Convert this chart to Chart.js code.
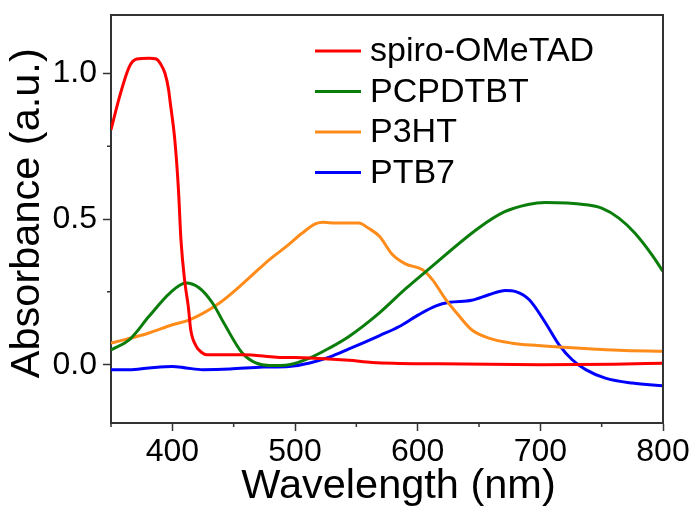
<!DOCTYPE html>
<html>
<head>
<meta charset="utf-8">
<script src="https://cdn.jsdelivr.net/npm/chart.js@4.4.1/dist/chart.umd.min.js"></script>
<style>
  html, body { margin: 0; padding: 0; background: #fff; }
  #abs-chart { display: block; }
</style>
</head>
<body>
<canvas id="abs-chart" width="693" height="509"></canvas>
<script>
// UV-vis absorbance of the hole-transport materials
const spiroNm  = [350, 357, 365, 371, 381, 387, 390, 394, 397, 398, 402, 405, 407, 410, 413, 415, 419.5, 424, 428, 447, 458, 485, 512, 544, 563, 617, 700, 760, 800];
const spiroAbs = [0.806, 0.92, 1.023, 1.049, 1.052, 1.049, 1.035, 1.0, 0.943, 0.909, 0.772, 0.60, 0.43, 0.29, 0.20, 0.12, 0.063, 0.042, 0.034, 0.034, 0.034, 0.026, 0.023, 0.015, 0.008, 0.003, 0.0, 0.002, 0.005];

const pcpdtbtNm  = [350, 365, 381, 398, 411, 422, 433, 442, 457, 468, 479, 495, 512, 528, 544, 568.6, 590, 609, 650, 671, 690, 704, 737, 750, 764, 777, 791, 800];
const pcpdtbtAbs = [0.051, 0.086, 0.166, 0.246, 0.28, 0.263, 0.21, 0.143, 0.04, 0.006, -0.003, 0.0, 0.023, 0.057, 0.097, 0.177, 0.26, 0.328, 0.47, 0.525, 0.55, 0.557, 0.549, 0.537, 0.503, 0.452, 0.377, 0.32];

const p3htNm  = [350, 381, 400, 414, 438.5, 455, 465.5, 479, 493, 506, 517, 523, 533, 552, 560, 569, 579, 590, 604, 612, 623, 634, 644, 658, 677, 698, 715, 764, 800];
const p3htAbs = [0.074, 0.109, 0.137, 0.154, 0.212, 0.269, 0.309, 0.36, 0.406, 0.452, 0.484, 0.489, 0.486, 0.486, 0.468, 0.44, 0.38, 0.346, 0.326, 0.292, 0.223, 0.166, 0.12, 0.091, 0.074, 0.066, 0.061, 0.05, 0.046];

const ptb7Nm  = [350, 365, 381, 400, 411, 425, 447, 474, 495, 512, 528, 544, 569, 585, 601, 615, 626, 644, 658, 671.5, 680, 691, 704, 715, 726, 737, 753, 775, 800];
const ptb7Abs = [-0.017, -0.017, -0.011, -0.006, -0.011, -0.017, -0.015, -0.008, -0.006, 0.006, 0.026, 0.054, 0.1, 0.131, 0.172, 0.202, 0.214, 0.221, 0.24, 0.255, 0.251, 0.223, 0.145, 0.07, 0.017, -0.017, -0.046, -0.063, -0.072];

const xTicks = [400, 500, 600, 700, 800];
const xMinorTicks = [350, 450, 550, 650, 750];
const yTicks = [0, 0.5, 1.0];
const yMinorTicks = [0.25, 0.75];

const fontFamily = '"Liberation Sans", Arial, Helvetica, sans-serif';
const axisColor = '#333';

const seriesColors = {
  spiro: '#ff0000',
  pcpdtbt: '#0b7d0b',
  p3ht: '#ff8c1a',
  ptb7: '#0000ff',
};

function toPoints(xs, ys) {
  return xs.map((x, i) => ({ x, y: ys[i] }));
}

function lineSet(label, xs, ys, color) {
  return {
    label,
    data: toPoints(xs, ys),
    borderColor: color,
    backgroundColor: color,
    borderWidth: 3,
    pointRadius: 0,
    cubicInterpolationMode: 'monotone',
    fill: false,
  };
}

// box around the plot plus the short minor ticks
const framePlugin = {
  id: 'frame',
  afterDraw(chart) {
    const { ctx, chartArea: a, scales } = chart;
    ctx.save();
    ctx.strokeStyle = axisColor;
    ctx.lineWidth = 2;
    ctx.beginPath();
    ctx.moveTo(a.left, a.top);
    ctx.lineTo(a.right, a.top);
    ctx.lineTo(a.right, a.bottom);
    ctx.stroke();

    ctx.lineWidth = 1.5;
    ctx.beginPath();
    xMinorTicks.forEach((v) => {
      const px = scales.x.getPixelForValue(v);
      ctx.moveTo(px, a.bottom);
      ctx.lineTo(px, a.bottom + 4);
    });
    yMinorTicks.forEach((v) => {
      const py = scales.y.getPixelForValue(v);
      ctx.moveTo(a.left, py);
      ctx.lineTo(a.left - 4, py);
    });
    ctx.stroke();
    ctx.restore();
  },
};

// stacked legend in the upper right of the plot
const legendPlugin = {
  id: 'stackLegend',
  afterDraw(chart) {
    const { ctx, chartArea: a } = chart;
    ctx.save();
    ctx.font = `34px ${fontFamily}`;
    ctx.textBaseline = 'middle';
    ctx.fillStyle = '#000';
    chart.data.datasets.forEach((ds, i) => {
      const y = a.top + 36 + i * 40.5;
      ctx.strokeStyle = ds.borderColor;
      ctx.lineWidth = 3;
      ctx.beginPath();
      ctx.moveTo(a.left + 204, y);
      ctx.lineTo(a.left + 250, y);
      ctx.stroke();
      ctx.fillText(ds.label, a.left + 259, y + 1);
    });
    ctx.restore();
  },
};

const ctx = document.getElementById('abs-chart');

new Chart(ctx, {
  type: 'line',
  data: {
    datasets: [
      lineSet('spiro-OMeTAD', spiroNm, spiroAbs, seriesColors.spiro),
      lineSet('PCPDTBT', pcpdtbtNm, pcpdtbtAbs, seriesColors.pcpdtbt),
      lineSet('P3HT', p3htNm, p3htAbs, seriesColors.p3ht),
      lineSet('PTB7', ptb7Nm, ptb7Abs, seriesColors.ptb7),
    ],
  },
  options: {
    responsive: false,
    animation: false,
    devicePixelRatio: 1,
    layout: { padding: { top: 15, right: 30, bottom: 0, left: 0 } },
    plugins: {
      legend: { display: false },
      tooltip: { enabled: false },
    },
    scales: {
      x: {
        type: 'linear',
        position: 'bottom',
        min: 350,
        max: 800,
        afterBuildTicks: (scale) => { scale.ticks = xTicks.map((v) => ({ value: v })); },
        afterFit: (scale) => {
          scale.height = 86;
          scale.paddingLeft = 0;
          scale.paddingRight = 0;
        },
        grid: { drawOnChartArea: false, drawTicks: true, tickLength: 8, tickColor: axisColor, tickWidth: 1.5 },
        border: { display: true, color: axisColor, width: 2 },
        ticks: {
          autoSkip: false,
          maxRotation: 0,
          padding: 2,
          color: '#000',
          font: { family: fontFamily, size: 32 },
          callback: (v) => String(v),
        },
        title: {
          display: true,
          text: '  Wavelength (nm)',
          color: '#000',
          font: { family: fontFamily, size: 41.5, lineHeight: 1 },
          padding: { top: 0, bottom: 2 },
        },
      },
      y: {
        type: 'linear',
        position: 'left',
        min: -0.2,
        max: 1.2,
        afterBuildTicks: (scale) => { scale.ticks = yTicks.map((v) => ({ value: v })); },
        afterFit: (scale) => {
          scale.width = 111;
          scale.paddingTop = 0;
          scale.paddingBottom = 0;
        },
        grid: { drawOnChartArea: false, drawTicks: true, tickLength: 8, tickColor: axisColor, tickWidth: 1.5 },
        border: { display: true, color: axisColor, width: 2 },
        ticks: {
          padding: 6,
          color: '#000',
          font: { family: fontFamily, size: 32 },
          callback: (v) => Number(v).toFixed(1),
        },
        title: {
          display: true,
          text: ' Absorbance (a.u.)',
          color: '#000',
          font: { family: fontFamily, size: 41.5, lineHeight: 1 },
          padding: { top: 7, bottom: 0 },
        },
      },
    },
  },
  plugins: [framePlugin, legendPlugin],
});
</script>
</body>
</html>
